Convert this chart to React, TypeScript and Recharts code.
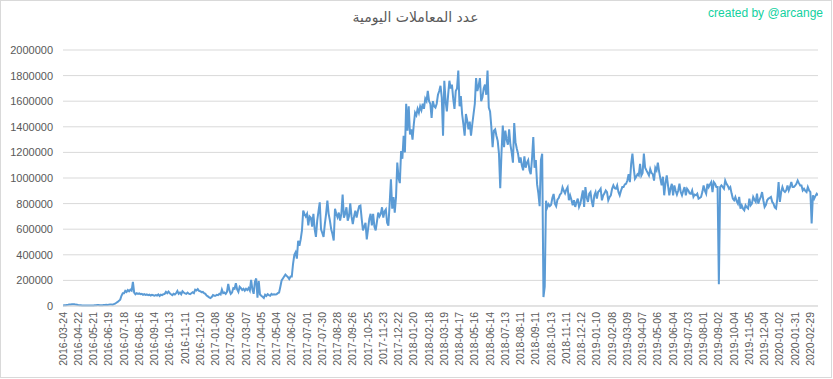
import React from "react";
import { LineChart, Line, XAxis, YAxis, CartesianGrid } from "recharts";

const tickLabels: string[] = [
  "2016-03-24", "2016-04-22", "2016-05-21", "2016-06-19", "2016-07-18", "2016-08-16", "2016-09-14", "2016-10-13", "2016-11-11", "2016-12-10",
  "2017-01-08", "2017-02-06", "2017-03-07", "2017-04-05", "2017-05-04", "2017-06-02", "2017-07-01", "2017-07-30", "2017-08-28", "2017-09-26",
  "2017-10-25", "2017-11-23", "2017-12-22", "2018-01-20", "2018-02-18", "2018-03-19", "2018-04-17", "2018-05-16", "2018-06-14", "2018-07-13",
  "2018-08-11", "2018-09-11", "2018-10-13", "2018-11-11", "2018-12-12", "2019-01-10", "2019-02-08", "2019-03-09", "2019-04-07", "2019-05-06",
  "2019-06-04", "2019-07-03", "2019-08-01", "2019-09-02", "2019-10-04", "2019-11-05", "2019-12-04", "2020-01-02", "2020-01-31", "2020-02-29",
];

// number of samples between consecutive tick labels
const samplesPerTick = 12;

const dailyTx: number[] = [
  3000, 5000, 6000, 8000, 9000, 11000, 12000, 14000, 13000, 14000, 11000, 9000,
  7000, 6000, 5000, 4000, 4000, 3000, 3000, 4000, 3000, 4000, 3000, 3000,
  4000, 5000, 6000, 7000, 8000, 6000, 5000, 6000, 7000, 8000, 9000, 8000,
  10000, 11000, 12000, 10000, 15000, 18000, 25000, 32000, 40000, 50000, 80000, 100000,
  100000, 118000, 110000, 125000, 115000, 128000, 120000, 188000, 105000, 92000, 100000, 95000,
  98000, 92000, 95000, 88000, 93000, 86000, 90000, 84000, 88000, 82000, 87000, 84000,
  80000, 86000, 82000, 90000, 78000, 88000, 85000, 92000, 95000, 110000, 100000, 112000,
  100000, 92000, 85000, 95000, 90000, 100000, 118000, 95000, 105000, 92000, 115000, 105000,
  98000, 95000, 105000, 96000, 92000, 100000, 108000, 100000, 128000, 122000, 132000, 118000,
  115000, 108000, 110000, 100000, 95000, 82000, 75000, 68000, 62000, 70000, 85000, 80000,
  80000, 88000, 85000, 95000, 90000, 128000, 100000, 105000, 95000, 110000, 172000, 120000,
  95000, 105000, 140000, 135000, 178000, 130000, 110000, 150000, 140000, 125000, 135000, 120000,
  135000, 125000, 140000, 120000, 205000, 130000, 95000, 190000, 215000, 65000, 195000, 90000,
  80000, 72000, 62000, 88000, 78000, 92000, 85000, 80000, 95000, 88000, 92000, 90000,
  92000, 100000, 105000, 150000, 200000, 215000, 230000, 245000, 235000, 225000, 210000, 230000,
  230000, 330000, 400000, 420000, 370000, 510000, 470000, 520000, 590000, 745000, 720000, 700000,
  720000, 630000, 700000, 690000, 620000, 720000, 600000, 540000, 667000, 740000, 810000, 600000,
  570000, 540000, 640000, 720000, 823000, 720000, 667000, 600000, 563000, 512000, 760000, 720000,
  693000, 730000, 667000, 720000, 870000, 690000, 720000, 771000, 667000, 700000, 802000, 700000,
  640000, 700000, 745000, 690000, 740000, 780000, 785000, 680000, 590000, 620000, 650000, 520000,
  600000, 680000, 720000, 630000, 720000, 620000, 590000, 660000, 730000, 700000, 720000, 771000,
  690000, 740000, 755000, 650000, 628000, 800000, 990000, 760000, 850000, 730000, 850000, 1120000,
  1000000, 960000, 1210000, 1150000, 1330000, 1200000, 1580000, 1370000, 1560000, 1340000, 1380000, 1300000,
  1420000, 1510000, 1490000, 1540000, 1510000, 1560000, 1530000, 1580000, 1540000, 1620000, 1600000, 1680000,
  1600000, 1580000, 1470000, 1600000, 1560000, 1550000, 1580000, 1650000, 1680000, 1720000, 1630000, 1330000,
  1760000, 1600000, 1520000, 1650000, 1760000, 1700000, 1730000, 1620000, 1540000, 1680000, 1700000, 1840000,
  1560000, 1640000, 1500000, 1420000, 1330000, 1500000, 1450000, 1380000, 1440000, 1330000, 1420000, 1500000,
  1580000, 1780000, 1680000, 1720000, 1780000, 1600000, 1630000, 1700000, 1730000, 1650000, 1840000, 1550000,
  1520000, 1400000, 1240000, 1370000, 1380000, 1330000, 1290000, 1190000, 920000, 1200000, 1410000, 1240000,
  1370000, 1300000, 1260000, 1380000, 1260000, 1200000, 1120000, 1430000, 1280000, 1230000, 1190000, 1120000,
  1160000, 1100000, 1060000, 1170000, 1080000, 1120000, 1140000, 1060000, 1030000, 1150000, 1320000, 1080000,
  1140000, 950000, 880000, 780000, 1140000, 1190000, 70000, 150000, 823000, 770000, 795000, 780000,
  790000, 843000, 875000, 800000, 780000, 830000, 843000, 870000, 880000, 927000, 900000, 880000,
  910000, 929000, 826000, 864000, 830000, 787000, 826000, 774000, 810000, 839000, 774000, 800000,
  850000, 903000, 774000, 929000, 850000, 813000, 877000, 890000, 820000, 774000, 864000, 890000,
  839000, 890000, 900000, 916000, 826000, 864000, 880000, 903000, 890000, 826000, 850000, 864000,
  916000, 942000, 920000, 916000, 942000, 890000, 864000, 900000, 929000, 929000, 950000, 955000,
  980000, 1030000, 968000, 1110000, 1190000, 1080000, 994000, 1010000, 1030000, 1020000, 1110000, 1020000,
  1040000, 1190000, 1080000, 1060000, 1040000, 1020000, 1070000, 1040000, 1030000, 980000, 1080000, 1060000,
  1120000, 1050000, 994000, 942000, 1010000, 865000, 960000, 1020000, 942000, 865000, 920000, 955000,
  865000, 942000, 900000, 870000, 900000, 955000, 890000, 864000, 900000, 929000, 864000, 916000,
  903000, 880000, 877000, 903000, 852000, 870000, 865000, 877000, 839000, 845000, 852000, 890000,
  942000, 900000, 877000, 955000, 929000, 950000, 968000, 890000, 968000, 955000, 930000, 930000,
  170000, 929000, 942000, 930000, 916000, 980000, 955000, 940000, 916000, 929000, 880000, 839000,
  826000, 852000, 820000, 800000, 852000, 761000, 787000, 760000, 748000, 787000, 770000, 761000,
  839000, 787000, 800000, 852000, 830000, 813000, 877000, 800000, 830000, 852000, 890000, 826000,
  774000, 790000, 826000, 839000, 845000, 852000, 813000, 800000, 770000, 761000, 839000, 968000,
  813000, 890000, 929000, 900000, 890000, 903000, 942000, 903000, 930000, 968000, 929000, 929000,
  940000, 955000, 980000, 960000, 942000, 942000, 903000, 916000, 900000, 890000, 929000, 903000,
  890000, 645000, 865000, 839000, 860000, 877000, 865000,
];

const yTicks: number[] = [0, 200000, 400000, 600000, 800000, 1000000, 1200000, 1400000, 1600000, 1800000, 2000000];

const titleText = "عدد المعاملات اليومية";
const creditText = "created by @arcange";

const data = dailyTx.map((v, i) => ({ i, v }));
const xTicks = tickLabels.map((_, k) => k * samplesPerTick);

const XTick = (props: any) => {
  const { x, y, payload } = props;
  const label = tickLabels[Math.round(payload.value / samplesPerTick)] ?? "";
  return (
    <text
      x={x}
      y={y}
      dy={3.6}
      transform={`rotate(-90, ${x}, ${y})`}
      textAnchor="end"
      fill="#595959"
      fontSize={10.5}
      fontFamily="Liberation Sans, Arial, sans-serif"
    >
      {label}
    </text>
  );
};

export default function App() {
  return (
    <div style={{ position: "absolute", left: 0, top: 0, width: 833, height: 379, background: "#fff" }}>
      <div
        style={{
          position: "absolute",
          left: 0,
          top: 0,
          width: 832,
          height: 378,
          border: "1px solid #d9d9d9",
          boxSizing: "border-box",
        }}
      />
      <div
        style={{
          position: "absolute",
          left: 0,
          width: 833,
          top: 9,
          textAlign: "center",
          fontFamily: "DejaVu Sans, sans-serif",
          fontSize: 14,
          color: "#595959",
          paddingRight: 2,
          boxSizing: "border-box",
        }}
      >
        {titleText}
      </div>
      <div
        style={{
          position: "absolute",
          right: 10,
          top: 6,
          fontFamily: "Liberation Sans, Arial, sans-serif",
          fontSize: 12,
          color: "#12d1a0",
        }}
      >
        {creditText}
      </div>
      <div style={{ position: "absolute", left: 0, top: 0 }}>
        <LineChart width={833} height={379} data={data} margin={{ top: 50, right: 15, bottom: 0, left: 0 }}>
          <CartesianGrid vertical={false} stroke="#d9d9d9" strokeWidth={1} />
          <XAxis
            dataKey="i"
            type="number"
            domain={[0, dailyTx.length - 1]}
            ticks={xTicks}
            interval={0}
            height={73}
            tickLine={false}
            tickSize={6}
            tickMargin={0}
            axisLine={{ stroke: "#d9d9d9" }}
            tick={<XTick />}
            allowDataOverflow
          />
          <YAxis
            width={63}
            domain={[0, 2000000]}
            ticks={yTicks}
            interval={0}
            axisLine={false}
            tickLine={false}
            tickSize={6}
            tickMargin={4}
            tick={{ fill: "#595959", fontSize: 11, fontFamily: "Liberation Sans, Arial, sans-serif" }}
          />
          <Line
            type="linear"
            dataKey="v"
            stroke="#5b9bd5"
            strokeWidth={2}
            dot={false}
            isAnimationActive={false}
          />
        </LineChart>
      </div>
    </div>
  );
}
